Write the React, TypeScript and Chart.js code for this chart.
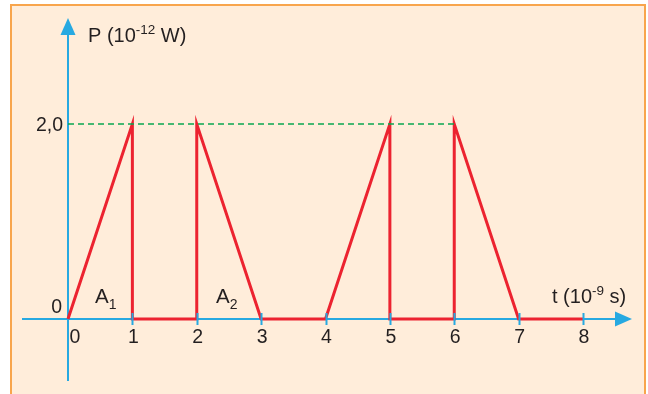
import React, { useEffect, useRef } from "react";
import { Chart, registerables } from "chart.js";

Chart.register(...registerables);

// Power pulse profile: P (10^-12 W) against t (10^-9 s)
const tValues = [0, 1, 1, 2, 2, 3, 4, 5, 5, 6, 6, 7, 8];
const pValues = [0, 2, 0, 0, 2, 0, 0, 2, 0, 0, 2, 0, 0];

// Dashed reference level at the pulse peak
const peakLevel = 2;
const peakLineStart = 0;
const peakLineEnd = 6;

const xTickValues = [0, 1, 2, 3, 4, 5, 6, 7, 8];
const xTickLabels = ["0", "1", "2", "3", "4", "5", "6", "7", "8"];
const yTickValues = [0, 2];
const yTickLabels = ["0", "2,0"];

// Area labels placed under the first two pulses
const areaNames = ["A", "A"];
const areaSubs = ["1", "2"];
const areaAt = [0.42, 2.3];

const FONT = '"Liberation Sans", Arial, sans-serif';
const TEXT = "#231f20";
const AXIS = "#27a9e1";
const RED = "#ec2330";
const GREEN = "#0aa650";

type Part = { text: string; size: number; dy: number };

function drawRich(ctx: CanvasRenderingContext2D, x: number, y: number, parts: Part[]) {
  let cx = x;
  for (const p of parts) {
    ctx.font = `${p.size}px ${FONT}`;
    ctx.fillText(p.text, cx, y + p.dy);
    cx += ctx.measureText(p.text).width;
  }
}

const framePlugin = {
  id: "frame",
  beforeDraw(chart: any) {
    const ctx: CanvasRenderingContext2D = chart.ctx;
    const w = chart.width;
    const h = chart.height;
    ctx.save();
    ctx.fillStyle = "#ffffff";
    ctx.fillRect(0, 0, w, h);
    ctx.fillStyle = "#ffedda";
    ctx.fillRect(11, 5, 634, h);
    ctx.strokeStyle = "#f8a54c";
    ctx.lineWidth = 2;
    ctx.beginPath();
    ctx.moveTo(11, h + 2);
    ctx.lineTo(11, 5);
    ctx.lineTo(645, 5);
    ctx.lineTo(645, h + 2);
    ctx.stroke();
    ctx.restore();
  },
  beforeDatasetsDraw(chart: any) {
    const ctx: CanvasRenderingContext2D = chart.ctx;
    const xs = chart.scales.x;
    const ys = chart.scales.y;
    const ox = xs.getPixelForValue(0);
    const oy = ys.getPixelForValue(0);
    ctx.save();
    ctx.strokeStyle = AXIS;
    ctx.fillStyle = AXIS;
    ctx.lineWidth = 2;
    // horizontal axis
    ctx.beginPath();
    ctx.moveTo(22, oy);
    ctx.lineTo(620, oy);
    ctx.stroke();
    ctx.beginPath();
    ctx.moveTo(632, oy);
    ctx.lineTo(615, oy - 7.5);
    ctx.lineTo(615, oy + 7.5);
    ctx.closePath();
    ctx.fill();
    // vertical axis
    ctx.beginPath();
    ctx.moveTo(ox, 381);
    ctx.lineTo(ox, 30);
    ctx.stroke();
    ctx.beginPath();
    ctx.moveTo(ox, 18);
    ctx.lineTo(ox - 7.5, 35);
    ctx.lineTo(ox + 7.5, 35);
    ctx.closePath();
    ctx.fill();
    ctx.restore();
  },
  afterDatasetsDraw(chart: any) {
    const ctx: CanvasRenderingContext2D = chart.ctx;
    const xs = chart.scales.x;
    const ys = chart.scales.y;
    const ox = xs.getPixelForValue(0);
    const oy = ys.getPixelForValue(0);
    ctx.save();
    // tick marks
    ctx.strokeStyle = AXIS;
    ctx.lineWidth = 2;
    xTickValues.forEach((v) => {
      if (v === 0) return;
      const px = Math.round(xs.getPixelForValue(v)) + 0.5;
      ctx.beginPath();
      ctx.moveTo(px, oy - 6);
      ctx.lineTo(px, oy + 6);
      ctx.stroke();
    });

    ctx.fillStyle = TEXT;
    ctx.textBaseline = "alphabetic";
    ctx.font = `19.5px ${FONT}`;
    // x tick labels
    ctx.textAlign = "center";
    xTickValues.forEach((v, i) => {
      const px = xs.getPixelForValue(v) + (v === 0 ? 7 : 1);
      ctx.fillText(xTickLabels[i], px, oy + 24);
    });
    // y tick labels
    ctx.textAlign = "right";
    yTickValues.forEach((v, i) => {
      const py = ys.getPixelForValue(v);
      if (v === 0) ctx.fillText(yTickLabels[i], ox - 6, py - 6);
      else ctx.fillText(yTickLabels[i], ox - 5, py + 7);
    });

    ctx.textAlign = "left";
    // axis titles
    drawRich(ctx, 88, 42, [
      { text: "P (10", size: 20, dy: 0 },
      { text: "-12", size: 13.5, dy: -8 },
      { text: " W)", size: 20, dy: 0 },
    ]);
    drawRich(ctx, 552, 303, [
      { text: "t (10", size: 20, dy: 0 },
      { text: "-9", size: 13.5, dy: -8.5 },
      { text: " s)", size: 20, dy: 0 },
    ]);
    // area labels
    areaNames.forEach((name, i) => {
      const px = xs.getPixelForValue(areaAt[i]);
      drawRich(ctx, px, oy - 16, [
        { text: name, size: 20.5, dy: 0 },
        { text: areaSubs[i], size: 14, dy: 6 },
      ]);
    });
    ctx.restore();
  },
};

export default function App() {
  const canvasRef = useRef<HTMLCanvasElement | null>(null);

  useEffect(() => {
    const canvas = canvasRef.current;
    if (!canvas) return;
    const chart = new Chart(canvas, {
      type: "scatter",
      data: {
        datasets: [
          {
            data: [
              { x: peakLineStart, y: peakLevel },
              { x: peakLineEnd, y: peakLevel },
            ],
            showLine: true,
            borderColor: GREEN,
            borderWidth: 1.6,
            borderDash: [6, 4],
            pointRadius: 0,
            clip: false,
          } as any,
          {
            data: tValues.map((t, i) => ({ x: t, y: pValues[i] })),
            showLine: true,
            borderColor: RED,
            borderWidth: 3,
            pointRadius: 0,
            clip: false,
          } as any,
        ],
      },
      options: {
        responsive: false,
        animation: false,
        layout: { padding: { left: 68, right: 65, top: 124, bottom: 75 } },
        scales: {
          x: { type: "linear", min: 0, max: 8, display: false },
          y: { type: "linear", min: 0, max: 2, display: false },
        },
        plugins: { legend: { display: false }, tooltip: { enabled: false } },
      },
      plugins: [framePlugin],
    });
    return () => chart.destroy();
  }, []);

  return (
    <div style={{ position: "fixed", left: 0, top: 0, width: 648, height: 394 }}>
      <canvas ref={canvasRef} width={648} height={394} style={{ display: "block" }} />
    </div>
  );
}
